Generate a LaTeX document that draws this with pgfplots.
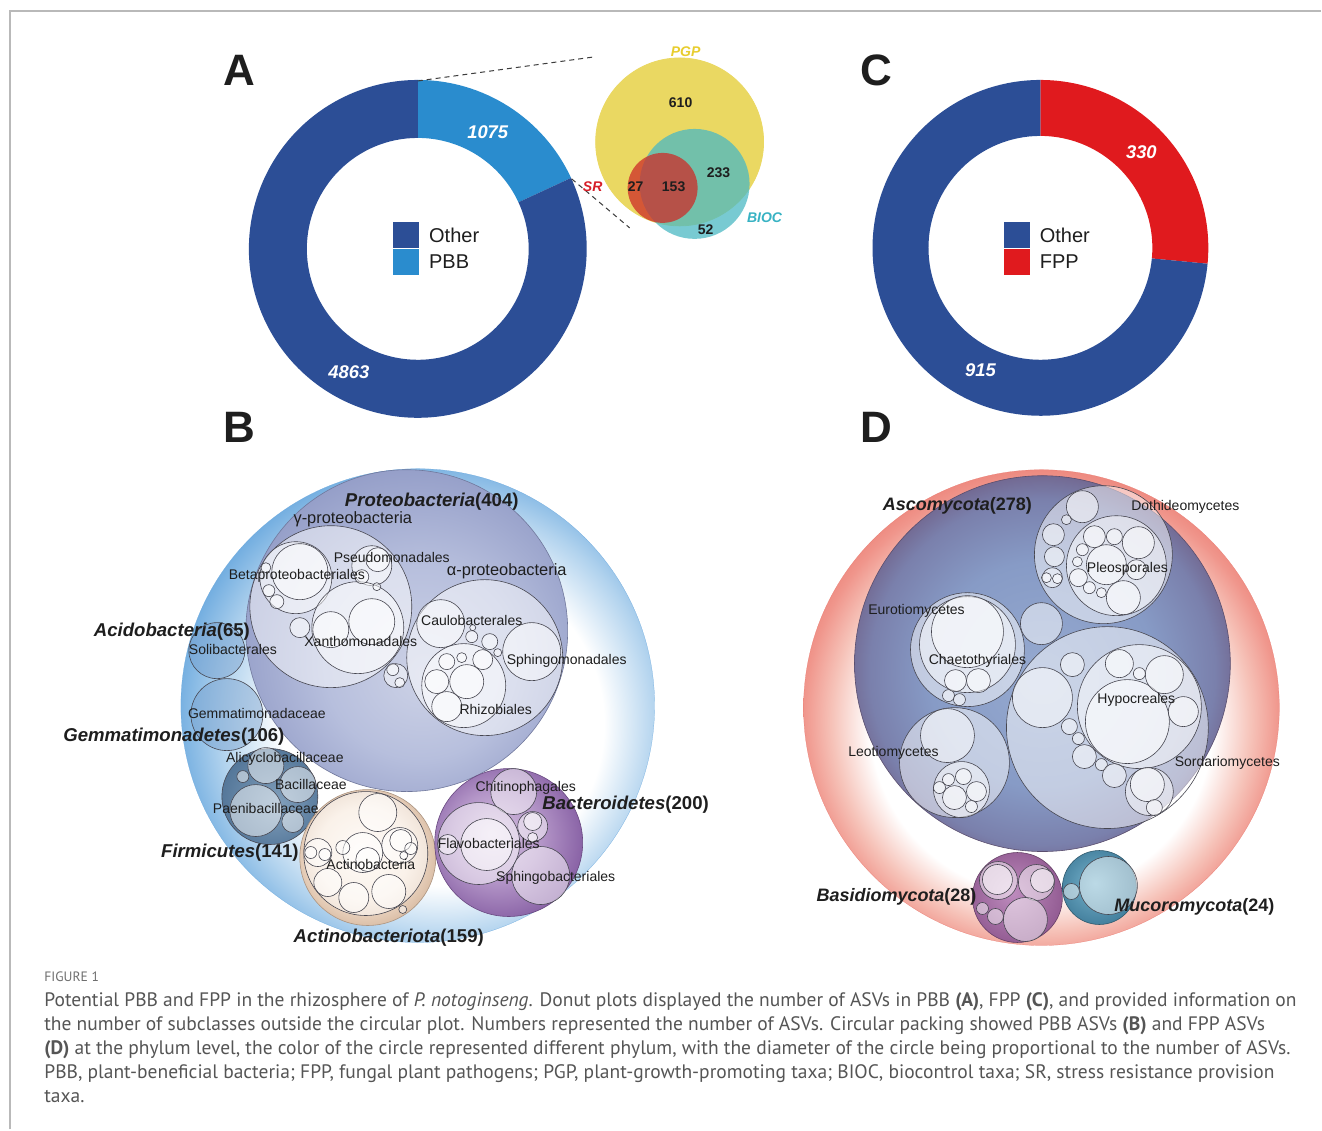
\documentclass[border=0pt]{standalone}
\usepackage{fontspec}
\setmainfont{Liberation Sans}
\newfontfamily\capfont{PT Sans}
\usepackage{pgfplots}
\pgfplotsset{compat=1.18}

\definecolor{dblue}{RGB}{44,78,150}
\definecolor{lblue}{RGB}{42,140,206}
\definecolor{fred}{RGB}{224,26,30}
\definecolor{vyel}{RGB}{234,216,98}
\definecolor{vteal}{RGB}{75,185,195}
\definecolor{vred}{RGB}{205,45,40}
\definecolor{labc}{RGB}{30,30,30}
\definecolor{capc}{RGB}{85,85,85}
\definecolor{capg}{RGB}{110,110,110}
\definecolor{frameg}{RGB}{185,185,185}
\definecolor{pgpc}{RGB}{232,205,45}
\definecolor{biocc}{RGB}{55,178,195}
\definecolor{src}{RGB}{215,30,40}
\definecolor{dashc}{RGB}{60,60,60}
\definecolor{circd}{RGB}{70,70,80}

% shading colours
\definecolor{bOutM}{RGB}{178,211,238}
\definecolor{bOutD}{RGB}{105,168,222}
\definecolor{prL}{RGB}{205,210,230}
\definecolor{prM}{RGB}{183,191,221}
\definecolor{prD}{RGB}{140,150,195}
\definecolor{fiL}{RGB}{130,160,188}
\definecolor{fiD}{RGB}{80,115,150}
\definecolor{acL}{RGB}{253,246,240}
\definecolor{acM}{RGB}{245,228,212}
\definecolor{acD}{RGB}{215,185,160}
\definecolor{baL}{RGB}{215,195,225}
\definecolor{baM}{RGB}{180,150,200}
\definecolor{baD}{RGB}{130,90,160}
\definecolor{dOutM}{RGB}{246,195,185}
\definecolor{dOutD}{RGB}{240,150,140}
\definecolor{dOutE}{RGB}{234,120,110}
\definecolor{asL}{RGB}{150,170,208}
\definecolor{asM}{RGB}{135,155,198}
\definecolor{asN}{RGB}{122,128,172}
\definecolor{asD}{RGB}{112,98,138}
\definecolor{bsL}{RGB}{190,140,190}
\definecolor{bsD}{RGB}{145,90,145}
\definecolor{muL}{RGB}{120,180,205}
\definecolor{muD}{RGB}{65,125,155}
\definecolor{gemc}{RGB}{120,160,205}

% path edge = 25bp for \pgfshadepath
\pgfdeclareradialshading{Bout}{\pgfpoint{4bp}{-3bp}}{color(0bp)=(white); color(17bp)=(white); color(23bp)=(bOutM); color(28bp)=(bOutD); color(50bp)=(bOutD)}
\pgfdeclareradialshading{Prot}{\pgfpoint{3bp}{-7bp}}{color(0bp)=(prL); color(15bp)=(prM); color(32bp)=(prD); color(50bp)=(prD)}
\pgfdeclareradialshading{Firm}{\pgfpoint{4bp}{-4bp}}{color(0bp)=(fiL); color(30bp)=(fiD); color(50bp)=(fiD)}
\pgfdeclareradialshading{Acto}{\pgfpoint{-2.5bp}{2.5bp}}{color(0bp)=(acL); color(17bp)=(acM); color(28bp)=(acD); color(50bp)=(acD)}
\pgfdeclareradialshading{Bact}{\pgfpoint{-6bp}{3bp}}{color(0bp)=(baL); color(15bp)=(baM); color(30bp)=(baD); color(50bp)=(baD)}
\pgfdeclareradialshading{Dout}{\pgfpoint{0bp}{-2.5bp}}{color(0bp)=(white); color(18bp)=(white); color(22bp)=(dOutM); color(25bp)=(dOutD); color(28bp)=(dOutE); color(50bp)=(dOutE)}
\pgfdeclareradialshading{Asco}{\pgfpoint{0bp}{-2bp}}{color(0bp)=(asL); color(15bp)=(asM); color(23bp)=(asN); color(27bp)=(asD); color(50bp)=(asD)}
\pgfdeclareradialshading{Basi}{\pgfpoint{-3bp}{3bp}}{color(0bp)=(bsL); color(28bp)=(bsD); color(50bp)=(bsD)}
\pgfdeclareradialshading{Muco}{\pgfpoint{-3bp}{3bp}}{color(0bp)=(muL); color(28bp)=(muD); color(50bp)=(muD)}

\def\declshade#1{\pgfdeclareplotmark{sh-#1}{\pgfpathcircle{\pgfpointorigin}{\pgfplotmarksize}\pgfshadepath{#1}{0}\pgfusepathqstroke}}
\declshade{Bout}\declshade{Prot}\declshade{Firm}\declshade{Acto}\declshade{Bact}
\declshade{Dout}\declshade{Asco}\declshade{Basi}\declshade{Muco}

\pgfdeclareplotmark{donutseg}{%
  \pgfpathmoveto{\pgfpointpolar{\angA}{\rOut pt}}%
  \pgfpatharc{\angA}{\angB}{\rOut pt}%
  \pgfpathlineto{\pgfpointpolar{\angB}{\rIn pt}}%
  \pgfpatharc{\angB}{\angA}{\rIn pt}%
  \pgfpathclose
  \pgfusepathqfill}

\pgfplotsset{
  bub/.style={scatter, only marks, mark=*,
    scatter/use mapped color={#1},
    visualization depends on={\thisrow{r} \as \rad},
    scatter/@pre marker code/.append style={/tikz/mark size=0.5*\rad}},
  shb/.style 2 args={scatter, only marks, mark=sh-#1,
    scatter/use mapped color={#2},
    visualization depends on={\thisrow{r} \as \rad},
    scatter/@pre marker code/.append style={/tikz/mark size=0.5*\rad}},
  donut/.style={scatter, only marks, mark=donutseg,
    scatter/use mapped color={#1},
    visualization depends on={90-360*\thisrow{cum}/\thisrow{tot} \as \angA},
    visualization depends on={90-360*(\thisrow{cum}+\thisrow{v})/\thisrow{tot} \as \angB},
    visualization depends on={0.5*\thisrow{ro} \as \rOut},
    visualization depends on={0.5*\thisrow{ri} \as \rIn}},
}
\tikzset{
  sub/.style={draw=circd, line width=0.3pt, fill=white, fill opacity=0.5},
  lab/.style={inner sep=0pt, text=labc},
}
\newcommand{\phy}[2]{\textbf{\textit{#1}}\textbf{(#2)}}
\newcommand{\fs}[1]{\fontsize{#1}{#1}\selectfont}

\begin{document}
\begin{tikzpicture}
\begin{axis}[x=0.5pt, y=0.5pt, y dir=reverse, xmin=0, xmax=1322, ymin=0, ymax=1130,
  hide axis, clip=false, clip marker paths=true]

\addplot[draw=none, fill=white] coordinates {(0,0) (1322,0) (1322,1130) (0,1130)};
\addplot[color=frameg, line width=0.75pt] coordinates {(10,1130) (10,11) (1322,11)};

% ---------------- Panel A donut ----------------
\addplot[donut={fill=lblue}] table {
x y v cum tot ro ri
418 249 1075 0 5938 169 111
};
\addplot[donut={fill=dblue}] table {
x y v cum tot ro ri
418 249 4863 1075 5938 169 111
};
\addplot[only marks, mark=square*, mark size=6.25pt, mark options={fill=dblue, draw=dblue}] coordinates {(406.5,235)};
\addplot[only marks, mark=square*, mark size=6.25pt, mark options={fill=lblue, draw=lblue}] coordinates {(406.5,262)};

% dashed connectors
\addplot[dashc, line width=0.5pt, dash pattern=on 2.5pt off 2pt] coordinates {(418,81) (594,57)};
\addplot[dashc, line width=0.5pt, dash pattern=on 2.5pt off 2pt] coordinates {(572,179) (630,228)};

% Venn
\addplot[bub={fill=vyel, draw=vyel}] table {
x y r
680 142 84
};
\addplot[bub={fill=vteal, draw opacity=0, fill opacity=0.75}] table {
x y r
695 184 55
};
\addplot[bub={fill=vred, draw opacity=0, fill opacity=0.75}] table {
x y r
663 188 35
};

% ---------------- Panel C donut ----------------
\addplot[donut={fill=fred}] table {
x y v cum tot ro ri
1041 248 330 0 1245 168 112
};
\addplot[donut={fill=dblue}] table {
x y v cum tot ro ri
1041 248 915 330 1245 168 112
};
\addplot[only marks, mark=square*, mark size=6.25pt, mark options={fill=dblue, draw=dblue}] coordinates {(1017,235)};
\addplot[only marks, mark=square*, mark size=6.25pt, mark options={fill=fred, draw=fred}] coordinates {(1017,262)};

% ---------------- Panel B circle packing ----------------
\addplot[shb={Bout}{draw=bOutD, line width=0.1pt}] table {
x y r
418 706 237
};
\addplot[shb={Prot}{draw=prD!80!black, line width=0.3pt}] table {
x y r
407 631 161
};
\addplot[bub={fill=gemc, fill opacity=0.45, draw=circd, line width=0.3pt}] table {
x y r
217 651 28
227 715 36
};
\addplot[shb={Firm}{draw=circd, line width=0.3pt}] table {
x y r
270 797 48
};
\addplot[shb={Acto}{draw=acD!80!black, line width=0.3pt}] table {
x y r
368 858 68
};
\addplot[shb={Bact}{draw=baD!80!black, line width=0.3pt}] table {
x y r
509 843 74
};
\addplot[bub={sub}] table {
x y r
331 607 81
485 658 78
396 676 12
266 766 18
298 785 18
256 811 26
243 777 6
293 822 11
366 854 62
514 792 23
479 844 41
541 876 29
533 827 15
296 578 36
372 566 20
358 628 46
300 628 10
441 624 24
532 652 29
464 686 42
472 637 6
490 642 8
473 628 3
498 653 4
393 670 6
400 683 5
378 813 19
363 853 20
400 846 18
318 853 14
328 883 14
354 898 15
389 892 17
403 910 4
487 845 26
448 845 10
533 822 9
533 838 5
300 572 28
266 568 5
269 591 6
277 602 7
378 560 12
362 577 7
377 587 4
331 630 18
372 622 23
447 662 8
462 658 5
483 660 10
437 682 12
467 682 17
447 707 15
343 848 7
368 860 12
401 841 11
411 849 6
404 856 4
311 853 6
325 855 6
};

% ---------------- Panel D circle packing ----------------
\addplot[shb={Dout}{draw=dOutE, line width=0.1pt}] table {
x y r
1042 708 238
};
\addplot[shb={Asco}{draw=asD!80!black, line width=0.3pt}] table {
x y r
1043 664 188
};
\addplot[shb={Basi}{draw=bsD!70!black, line width=0.3pt}] table {
x y r
1018 898 45
};
\addplot[shb={Muco}{draw=muD!70!black, line width=0.3pt}] table {
x y r
1100 888 37
};
\addplot[bub={sub}] table {
x y r
1104 555 69
968 650 57
1108 728 101
955 763 55
1042 624 21
999 881 19
1037 883 18
1026 920 22
996 917 8
983 909 6
1109 886 29
1072 892 8
1117 566 50
1083 507 16
1054 535 11
1067 520 5
1055 557 10
1053 578 10
968 645 48
949 696 6
960 700 6
1140 707 62
1043 698 30
1073 665 12
1070 727 8
1079 739 6
1085 757 12
1102 765 6
1115 776 12
1150 792 24
948 736 27
962 790 28
998 880 15
1043 881 12
1107 565 20
1139 543 16
1124 598 17
1095 537 11
1115 537 8
1083 550 6
1078 562 5
1079 578 9
1090 588 6
1102 593 5
1137 570 10
1047 578 5
1058 579 5
968 632 36
956 681 11
979 681 12
1128 722 42
1120 664 14
1165 675 19
1184 712 15
1140 674 6
1148 785 17
1155 808 8
964 777 8
949 780 6
940 788 6
955 798 12
977 792 10
972 807 6
};

% ================= all text on top =================
\node[lab, anchor=west, font=\fs{10}] at (axis cs:429,235) {Other};
\node[lab, anchor=west, font=\fs{10}] at (axis cs:429,262) {PBB};
\node[inner sep=0, text=white, font=\fs{9.2}\bfseries\itshape] at (axis cs:488,132) {1075};
\node[inner sep=0, text=white, font=\fs{9.2}\bfseries\itshape] at (axis cs:349,372) {4863};

\node[inner sep=0, text=pgpc, font=\fs{7}\bfseries\itshape] at (axis cs:686,52) {PGP};
\node[inner sep=0, text=biocc, font=\fs{7}\bfseries\itshape] at (axis cs:765,218) {BIOC};
\node[inner sep=0, text=src, font=\fs{7}\bfseries\itshape] at (axis cs:593,187) {SR};
\node[lab, font=\fs{7}\bfseries] at (axis cs:681,103) {610};
\node[lab, font=\fs{7}\bfseries] at (axis cs:719,173) {233};
\node[lab, font=\fs{7}\bfseries] at (axis cs:636,187) {27};
\node[lab, font=\fs{7}\bfseries] at (axis cs:674,187) {153};
\node[lab, font=\fs{7}\bfseries] at (axis cs:706,230) {52};

\node[lab, anchor=west, font=\fs{10}] at (axis cs:1040,235) {Other};
\node[lab, anchor=west, font=\fs{10}] at (axis cs:1040,262) {FPP};
\node[inner sep=0, text=white, font=\fs{9.2}\bfseries\itshape] at (axis cs:1142,152) {330};
\node[inner sep=0, text=white, font=\fs{9.2}\bfseries\itshape] at (axis cs:981,370) {915};

\node[lab, font=\fs{22}\bfseries] at (axis cs:240,70) {A};
\node[lab, font=\fs{22}\bfseries] at (axis cs:877,70) {C};
\node[lab, font=\fs{22}\bfseries] at (axis cs:240,428) {B};
\node[lab, font=\fs{22}\bfseries] at (axis cs:877,428) {D};

\node[lab, font=\fs{9.3}] at (axis cs:432,502) {\phy{Proteobacteria}{404}};
\node[lab, font=\fs{8.2}] at (axis cs:353,520) {γ-proteobacteria};
\node[lab, font=\fs{8.2}] at (axis cs:507,572) {α-proteobacteria};
\node[lab, font=\fs{7}] at (axis cs:392,558) {Pseudomonadales};
\node[lab, font=\fs{7}] at (axis cs:297,576) {Betaproteobacteriales};
\node[lab, font=\fs{7}] at (axis cs:472,621) {Caulobacterales};
\node[lab, font=\fs{7}] at (axis cs:361,642) {Xanthomonadales};
\node[lab, font=\fs{7}] at (axis cs:567,661) {Sphingomonadales};
\node[lab, font=\fs{7}] at (axis cs:496,710) {Rhizobiales};
\node[lab, font=\fs{9.3}] at (axis cs:172,632) {\phy{Acidobacteria}{65}};
\node[lab, font=\fs{7}] at (axis cs:233,650) {Solibacterales};
\node[lab, font=\fs{7}] at (axis cs:257,714) {Gemmatimonadaceae};
\node[lab, font=\fs{9.3}] at (axis cs:174,737) {\phy{Gemmatimonadetes}{106}};
\node[lab, font=\fs{7}] at (axis cs:285,759) {Alicyclobacillaceae};
\node[lab, font=\fs{7}] at (axis cs:311,785) {Bacillaceae};
\node[lab, font=\fs{7}] at (axis cs:266,809) {Paenibacillaceae};
\node[lab, font=\fs{9.3}] at (axis cs:230,853) {\phy{Firmicutes}{141}};
\node[lab, font=\fs{7}] at (axis cs:371,865) {Actinobacteria};
\node[lab, font=\fs{9.3}] at (axis cs:389,938) {\phy{Actinobacteriota}{159}};
\node[lab, font=\fs{7}] at (axis cs:526,788) {Chitinophagales};
\node[lab, font=\fs{9.3}] at (axis cs:626,805) {\phy{Bacteroidetes}{200}};
\node[lab, font=\fs{7}] at (axis cs:489,844) {Flavobacteriales};
\node[lab, font=\fs{7}] at (axis cs:556,878) {Sphingobacteriales};

\node[lab, font=\fs{9}] at (axis cs:958,506) {\phy{Ascomycota}{278}};
\node[lab, font=\fs{7}] at (axis cs:1186,507) {Dothideomycetes};
\node[lab, font=\fs{7}] at (axis cs:1128,569) {Pleosporales};
\node[lab, font=\fs{7}] at (axis cs:917,611) {Eurotiomycetes};
\node[lab, font=\fs{7}] at (axis cs:978,661) {Chaetothyriales};
\node[lab, font=\fs{7}] at (axis cs:1137,700) {Hypocreales};
\node[lab, font=\fs{7}] at (axis cs:894,753) {Leotiomycetes};
\node[lab, font=\fs{7}] at (axis cs:1228,763) {Sordariomycetes};
\node[lab, font=\fs{9}] at (axis cs:897,897) {\phy{Basidiomycota}{28}};
\node[lab, font=\fs{9}] at (axis cs:1195,907) {\phy{Mucoromycota}{24}};

% ---------------- Caption ----------------
\node[inner sep=0, anchor=base west, text=capg, font=\capfont\fs{6.8}] at (axis cs:44,982) {FIGURE 1};
\node[inner sep=0, anchor=base west, text=capc, font=\capfont\fs{9.75}] at (axis cs:44,1007) {Potential PBB and FPP in the rhizosphere of \textit{P. notoginseng}. Donut plots displayed the number of ASVs in PBB \textbf{(A)}, FPP \textbf{(C)}, and provided information on};
\node[inner sep=0, anchor=base west, text=capc, font=\capfont\fs{9.75}] at (axis cs:44,1031) {the number of subclasses outside the circular plot. Numbers represented the number of ASVs. Circular packing showed PBB ASVs \textbf{(B)} and FPP ASVs};
\node[inner sep=0, anchor=base west, text=capc, font=\capfont\fs{9.75}] at (axis cs:44,1055) {\textbf{(D)} at the phylum level, the color of the circle represented different phylum, with the diameter of the circle being proportional to the number of ASVs.};
\node[inner sep=0, anchor=base west, text=capc, font=\capfont\fs{9.75}] at (axis cs:44,1079) {PBB, plant-beneficial bacteria; FPP, fungal plant pathogens; PGP, plant-growth-promoting taxa; BIOC, biocontrol taxa; SR, stress resistance provision};
\node[inner sep=0, anchor=base west, text=capc, font=\capfont\fs{9.75}] at (axis cs:44,1103) {taxa.};

\end{axis}
\end{tikzpicture}
\end{document}
